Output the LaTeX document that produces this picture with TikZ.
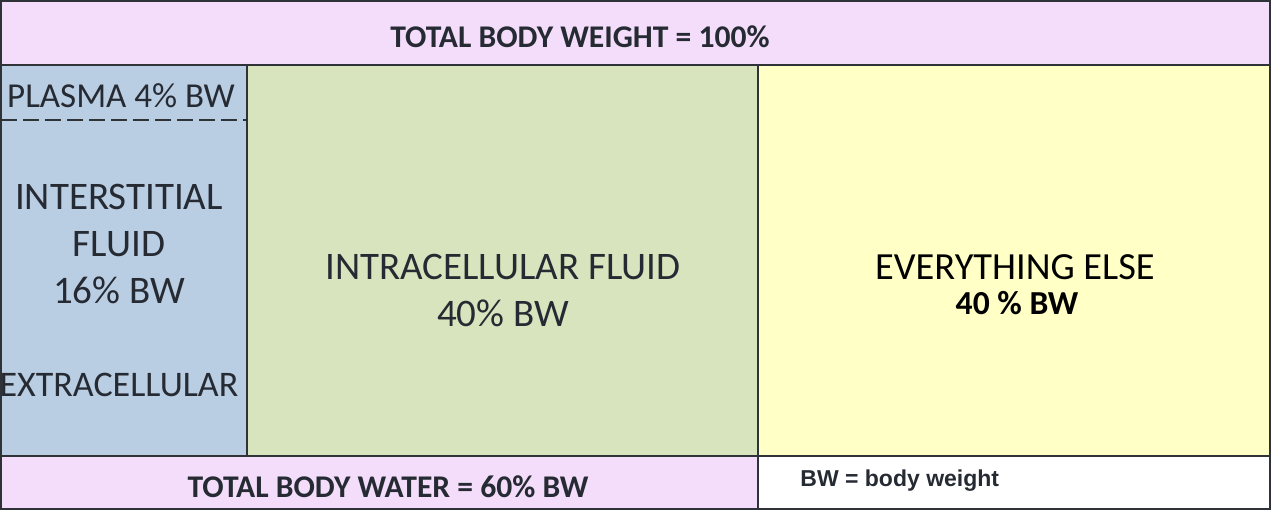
\documentclass[tikz,border=0pt]{standalone}
\usepackage{fontspec}
\setmainfont{Carlito}
\newfontfamily\arialf{Liberation Sans}
\definecolor{pinkbg}{HTML}{F3DDFA}
\definecolor{bluebg}{HTML}{B9CDE3}
\definecolor{greenbg}{HTML}{D8E4BD}
\definecolor{yellowbg}{HTML}{FFFFC6}
\definecolor{txt}{HTML}{262B33}
\definecolor{edge}{HTML}{2F3236}
\begin{document}
\begin{tikzpicture}[x=0.5pt,y=-0.5pt,
  cell/.style={draw=edge,line width=1.2pt},
  lbl/.style={text=txt,align=center,inner sep=0pt},
  big/.style={lbl,font=\fontsize{19.5}{23.5}\selectfont},
  hdr/.style={lbl,font=\bfseries\fontsize{15.8}{18}\selectfont}]
\useasboundingbox (0,0) rectangle (1272,510);
\fill[white] (0,0) rectangle (1272,510);
% cells
\path[cell,fill=pinkbg] (1,1) rectangle (1270,65);
\path[cell,fill=bluebg] (1,65) rectangle (247,456);
\path[cell,fill=greenbg] (247,65) rectangle (758,456);
\path[cell,fill=yellowbg] (758,65) rectangle (1270,456);
\path[cell,fill=pinkbg] (1,456) rectangle (758,509);
\path[cell,fill=white] (758,456) rectangle (1270,509);
\draw[edge,line width=1.2pt,dash pattern=on 8pt off 3pt] (1,120) -- (247,120);
% labels
\node[hdr] (tbw) at (580,37) {TOTAL BODY WEIGHT = 100\%};
\node[lbl,font=\fontsize{17.5}{21}\selectfont] (pl) at (121,96) {PLASMA 4\% BW};
\node[big] (isf) at (119,244) {INTERSTITIAL\\FLUID\\16\% BW};
\node[lbl,font=\fontsize{18}{21}\selectfont] (ecf) at (119,385) {EXTRACELLULAR};
\node[big] (icf) at (503,290) {INTRACELLULAR FLUID\\40\% BW};
\node[lbl,text=black,font=\fontsize{19.2}{22}\selectfont] (ee) at (1015,267) {EVERYTHING ELSE};
\node[lbl,text=black,font=\bfseries\fontsize{16.8}{19}\selectfont] (ee2) at (1017,303) {40 \% BW};
\node[hdr] (tbwater) at (388,487) {TOTAL BODY WATER = 60\% BW};
\node[lbl,anchor=west,font=\arialf\bfseries\fontsize{11.5}{13}\selectfont] (key) at (800,481) {BW = body weight};
\end{tikzpicture}
\end{document}
